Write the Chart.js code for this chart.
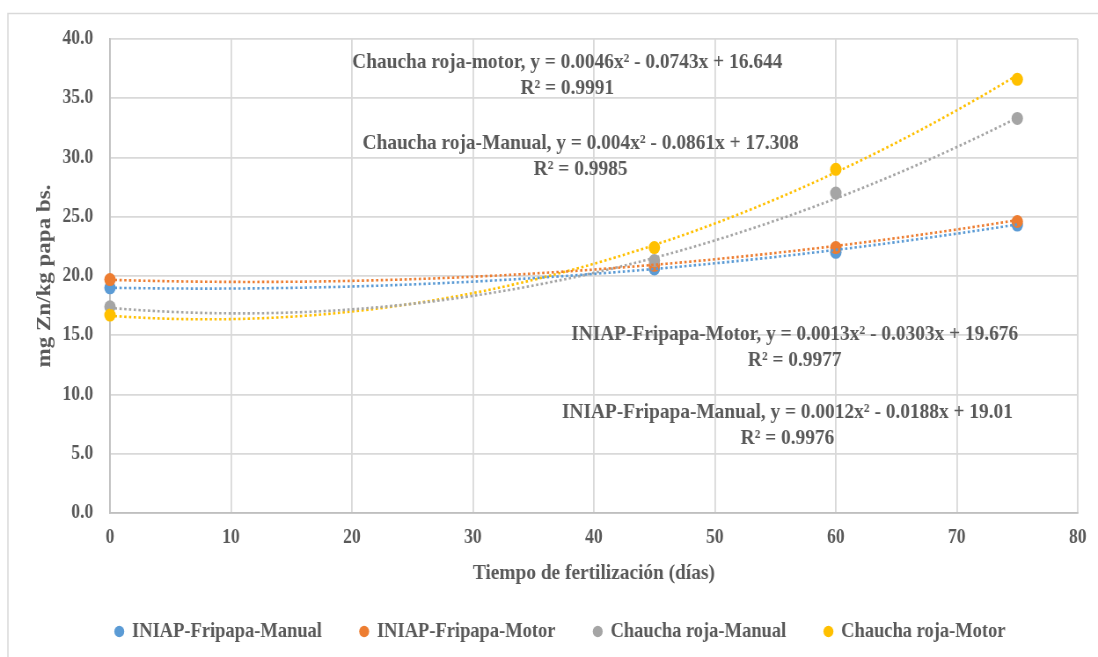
<!DOCTYPE html>
<html>
<head>
<meta charset="utf-8">
<script src="https://cdn.jsdelivr.net/npm/chart.js@4.4.0/dist/chart.umd.min.js"></script>
<style>
  html, body { margin: 0; padding: 0; background: #ffffff; overflow: hidden; }
  /* the chart is laid out wide and squeezed horizontally into the 1098px page */
  #wrap { width: 1248px; height: 657px; transform: scaleX(0.8798); transform-origin: 0 0; }
</style>
</head>
<body>
<div id="wrap"><canvas id="chart"></canvas></div>
<script>
// Sampling days
const days = [0, 45, 60, 75];

// Zn content (mg Zn/kg papa bs.) per treatment
const fripapaManual = [19.0, 20.6, 22.0, 24.3];
const fripapaMotor  = [19.7, 20.9, 22.4, 24.6];
const chauchaManual = [17.4, 21.3, 27.0, 33.3];
const chauchaMotor  = [16.7, 22.4, 29.0, 36.6];

const seriesNames  = ['INIAP-Fripapa-Manual', 'INIAP-Fripapa-Motor', 'Chaucha roja-Manual', 'Chaucha roja-Motor'];
const seriesValues = [fripapaManual, fripapaMotor, chauchaManual, chauchaMotor];
const seriesColors = ['#5B9BD5', '#ED7D31', '#A5A5A5', '#FFC000'];

// Polynomial trendlines y = a x^2 + b x + c, with R²
const trendA  = [0.0012, 0.0013, 0.004, 0.0046];
const trendB  = [-0.0188, -0.0303, -0.0861, -0.0743];
const trendC  = [19.01, 19.676, 17.308, 16.644];
const trendR2 = [0.9976, 0.9977, 0.9985, 0.9991];
const trendNames = ['INIAP-Fripapa-Manual', 'INIAP-Fripapa-Motor', 'Chaucha roja-Manual', 'Chaucha roja-motor'];
// equation label anchors (data units)
const labelX = [56.0, 56.6, 38.9, 37.8];
const labelY = [8.5, 15.1, 31.2, 38.0];
const r2Y    = [6.3, 12.9, 29.0, 35.8];

// Axis ticks
const xTicks = [0, 10, 20, 30, 40, 50, 60, 70, 80];
const yTicks = [0, 5, 10, 15, 20, 25, 30, 35, 40];

const FONT = "'Liberation Serif', 'Times New Roman', serif";
const TEXT = '#595959';
const GRID = '#D9D9D9';

const trendPoints = (i) => {
  const pts = [];
  for (let x = days[0]; x <= days[days.length - 1]; x += 1) {
    pts.push({ x, y: trendA[i] * x * x + trendB[i] * x + trendC[i] });
  }
  return pts;
};

const pointOrder = [4, 3, 2, 1];
const datasets = [];
seriesNames.forEach((name, i) => {
  datasets.push({
    label: name,
    data: days.map((d, k) => ({ x: d, y: seriesValues[i][k] })),
    backgroundColor: seriesColors[i],
    borderColor: seriesColors[i],
    pointRadius: 6.5,
    pointHoverRadius: 6.5,
    pointBorderWidth: 0,
    pointStyle: 'circle',
    showLine: false,
    clip: false,
    order: pointOrder[i]
  });
});
seriesNames.forEach((name, i) => {
  datasets.push({
    label: 'trend ' + name,
    data: trendPoints(i),
    borderColor: seriesColors[i],
    backgroundColor: seriesColors[i],
    borderWidth: 2.6,
    borderDash: [2.6, 2.8],
    pointRadius: 0,
    showLine: true,
    tension: 0,
    order: 0
  });
});

const fmt = (v) => String(Math.abs(v));
const equationText = (i) =>
  `${trendNames[i]}, y = ${fmt(trendA[i])}x² ${trendB[i] < 0 ? '-' : '+'} ${fmt(trendB[i])}x ${trendC[i] < 0 ? '-' : '+'} ${fmt(trendC[i])}`;

const equationLabels = {
  id: 'equationLabels',
  afterDatasetsDraw(chart) {
    const { ctx, scales: { x, y } } = chart;
    ctx.save();
    ctx.fillStyle = TEXT;
    ctx.font = `bold 22px ${FONT}`;
    ctx.textAlign = 'center';
    ctx.textBaseline = 'middle';
    for (let i = 0; i < trendNames.length; i++) {
      const px = x.getPixelForValue(labelX[i]);
      ctx.fillText(equationText(i), px, y.getPixelForValue(labelY[i]));
      ctx.fillText(`R² = ${trendR2[i]}`, px, y.getPixelForValue(r2Y[i]));
    }
    ctx.restore();
  }
};

const outerFrame = {
  id: 'outerFrame',
  beforeDraw(chart) {
    const { ctx, width, height } = chart;
    ctx.save();
    ctx.fillStyle = '#ffffff';
    ctx.fillRect(0, 0, width, height);
    ctx.strokeStyle = GRID;
    ctx.lineWidth = 1.5;
    ctx.strokeRect(9, 13.5, width + 10, height + 10);
    ctx.restore();
  }
};

// nudges the bottom legend row a little to the right of centre
const legendOffset = {
  id: 'legendOffset',
  afterLayout(chart) {
    if (chart.legend) {
      chart.legend.left += 20;
      chart.legend.right += 20;
    }
  }
};

new Chart(document.getElementById('chart'), {
  type: 'scatter',
  data: { datasets },
  options: {
    responsive: true,
    maintainAspectRatio: false,
    animation: false,
    layout: { padding: { top: 39, right: 13.5, bottom: 5, left: 0 } },
    plugins: {
      tooltip: { enabled: false },
      legend: {
        position: 'bottom',
        labels: {
          usePointStyle: true,
          pointStyle: 'circle',
          boxWidth: 8,
          boxHeight: 8,
          padding: 44,
          color: TEXT,
          font: { family: FONT, size: 21, weight: 'bold' },
          filter: (item) => item.datasetIndex < seriesNames.length,
          sort: (a, b) => a.datasetIndex - b.datasetIndex
        }
      }
    },
    scales: {
      x: {
        type: 'linear',
        min: xTicks[0],
        max: xTicks[xTicks.length - 1],
        afterBuildTicks: (s) => { s.ticks = xTicks.map(v => ({ value: v })); },
        afterFit: (s) => { s.height = 64; },
        ticks: {
          color: TEXT,
          padding: 13,
          font: { family: FONT, size: 20, weight: 'bold' }
        },
        grid: { color: GRID, lineWidth: 1.8, drawTicks: false },
        border: { display: true, color: '#BFBFBF', width: 1.8 },
        title: {
          display: true,
          text: 'Tiempo de fertilización (días)',
          color: TEXT,
          padding: 0,
          font: { family: FONT, size: 22, weight: 'bold', lineHeight: 0.32 }
        }
      },
      y: {
        type: 'linear',
        min: yTicks[0],
        max: yTicks[yTicks.length - 1],
        afterBuildTicks: (s) => { s.ticks = yTicks.map(v => ({ value: v })); },
        afterFit: (s) => { s.width = 125; },
        ticks: {
          color: TEXT,
          padding: 19,
          callback: (v) => Number(v).toFixed(1),
          font: { family: FONT, size: 20, weight: 'bold' }
        },
        grid: { color: GRID, lineWidth: 1.8, drawTicks: false },
        border: { display: true, color: '#BFBFBF', width: 1.8 },
        title: {
          display: true,
          text: 'mg Zn/kg papa bs.',
          color: TEXT,
          padding: { top: 40, bottom: 0 },
          font: { family: FONT, size: 23, weight: 'bold', lineHeight: 1 }
        }
      }
    }
  },
  plugins: [outerFrame, equationLabels, legendOffset]
});
</script>
</body>
</html>
